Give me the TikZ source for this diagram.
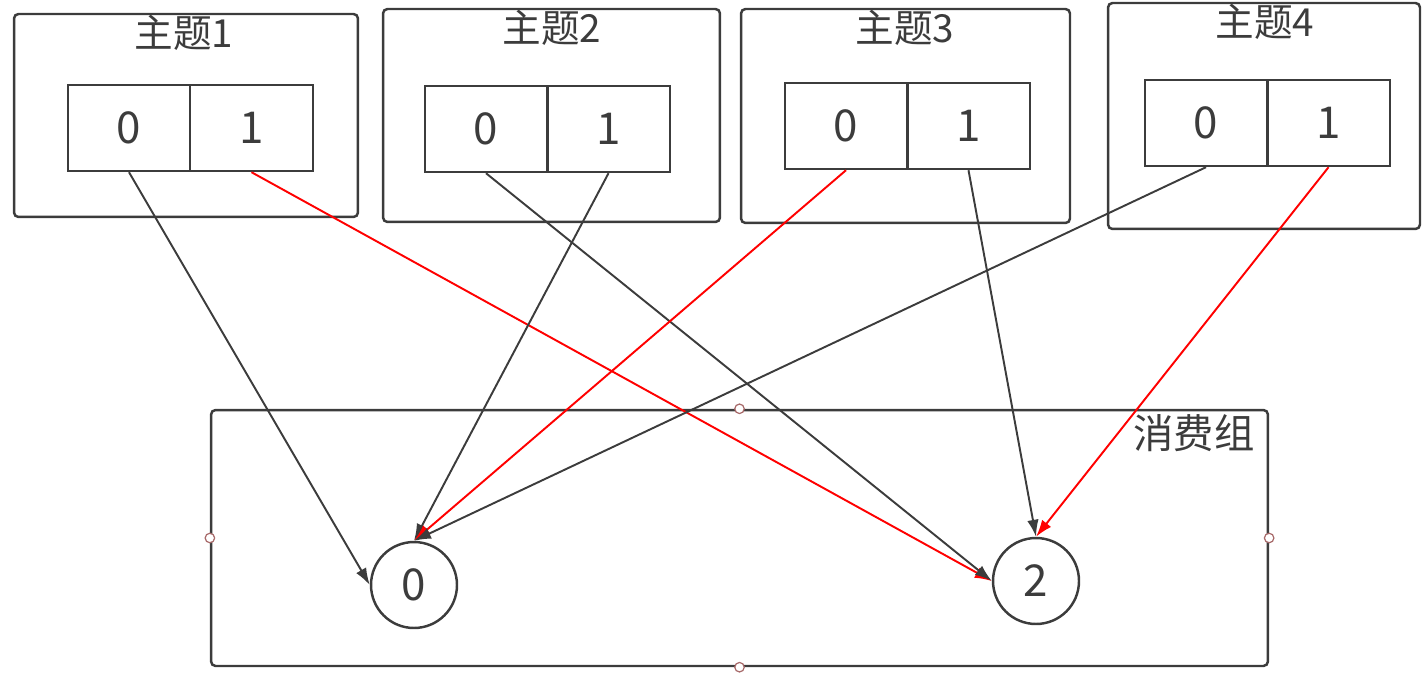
\documentclass[tikz,border=0pt]{standalone}
\usepackage{fontspec}
\setmainfont{Noto Sans CJK SC}
\usetikzlibrary{arrows.meta}
\definecolor{linegray}{HTML}{3C3C3C}
\definecolor{handlered}{HTML}{A86A6A}

\begin{document}
\begin{tikzpicture}[x=0.02cm, y=-0.02cm,
    topicbox/.style={draw=linegray, line width=1.4pt, rounded corners=2.5pt, inner sep=0pt},
    cell/.style={draw=linegray, line width=1.4pt, minimum width=2.45cm, minimum height=1.72cm, inner sep=0pt, text=linegray, font=\fontsize{25}{25}\selectfont},
    title/.style={text=linegray, inner sep=0pt, font=\fontsize{22}{22}\selectfont},
    member/.style={circle, draw=linegray, line width=1.4pt, minimum size=1.72cm, inner sep=0pt, text=linegray, font=\fontsize{25}{25}\selectfont},
    handle/.style={circle, draw=handlered, fill=white, line width=0.7pt, minimum size=0.19cm, inner sep=0pt},
    link/.style={draw=linegray, line width=1.1pt, -{Latex[length=0.34cm, width=0.23cm]}},
    redlink/.style={draw=red, line width=1.1pt, -{Latex[length=0.34cm, width=0.23cm]}}]
    \useasboundingbox (0,0) rectangle (1422,692);

    % Topic 1
    \node[topicbox, minimum width=6.88cm, minimum height=4.06cm] (topic1) at (186,115.5) {};
    \node[title] (title1) at (184,33) {主题1};
    \node[cell] (p10) at (129,128) {0};
    \node[cell] (p11) at (251.5,128) {1};

    % Topic 2
    \node[topicbox, minimum width=6.74cm, minimum height=4.26cm] (topic2) at (551.5,115.5) {};
    \node[title] (title2) at (552,28) {主题2};
    \node[cell] (p20) at (486,129) {0};
    \node[cell] (p21) at (608.5,129) {1};

    % Topic 3
    \node[topicbox, minimum width=6.58cm, minimum height=4.28cm] (topic3) at (905.5,116) {};
    \node[title] (title3) at (905,28) {主题3};
    \node[cell] (p30) at (846,126) {0};
    \node[cell] (p31) at (968.5,126) {1};

    % Topic 4
    \node[topicbox, minimum width=6.24cm, minimum height=4.52cm] (topic4) at (1264,116) {};
    \node[title] (title4) at (1265,22) {主题4};
    \node[cell] (p40) at (1206,123) {0};
    \node[cell] (p41) at (1328.5,123) {1};

    % Consumer group
    \node[topicbox, minimum width=21.14cm, minimum height=5.12cm] (group) at (739.5,538) {};
    \node[title, font=\fontsize{23}{23}\selectfont] (grouptitle) at (1194,433) {消费组};
    \node[handle] (hn) at (group.north) {};
    \node[handle] (hs) at (group.south) {};
    \node[handle] (hw) at (group.west) {};
    \node[handle] (he) at (group.east) {};

    % Consumers
    \node[member] (c0) at (414,585) {0};
    \node[member] (c2) at (1036,581) {2};

    % Assignments
    \draw[link] (p10.south) -- (c0.west);
    \draw[redlink] (p11.south) -- (c2.west);
    \draw[link] (p20.south) -- (c2.west);
    \draw[link] (p21.south) -- (c0.north);
    \draw[redlink] (p30.south) -- (c0.north);
    \draw[link] (p31.south) -- (c2.north);
    \draw[link] (p40.south) -- (c0.north);
    \draw[redlink] (p41.south) -- (c2.north);
\end{tikzpicture}
\end{document}
